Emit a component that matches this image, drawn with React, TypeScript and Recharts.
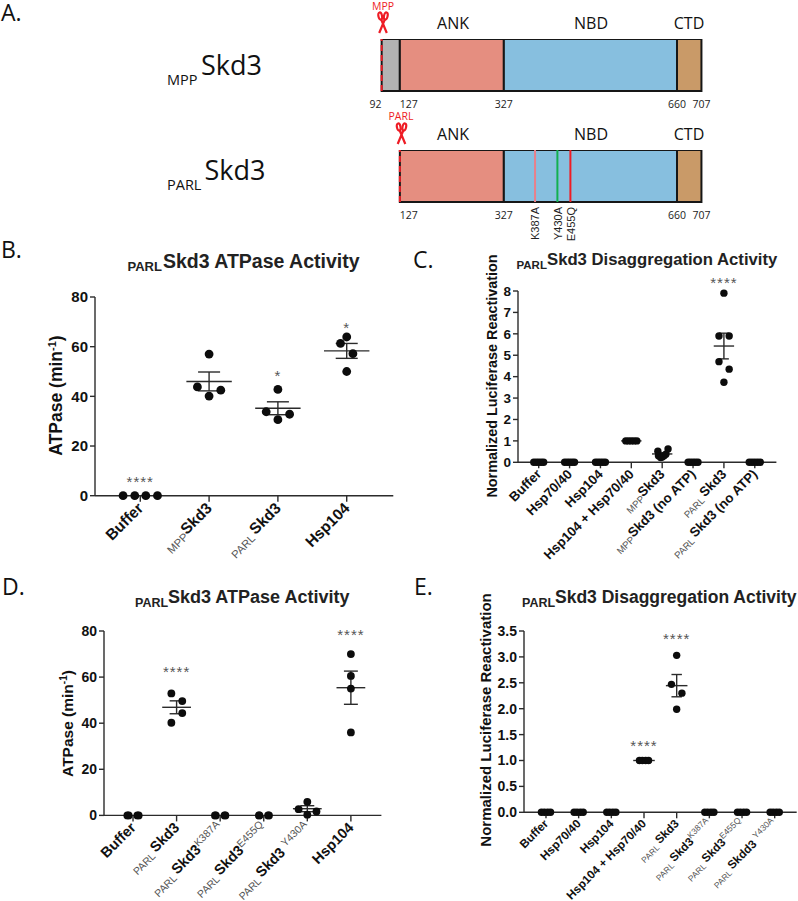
import {
  Bar,
  BarChart,
  ReferenceDot,
  ReferenceLine,
  Scatter,
  ScatterChart,
  XAxis,
  YAxis,
} from "recharts";

const ARIAL = "'Liberation Sans', Arial, sans-serif";
const MYRIAD = "'Open Sans', sans-serif";
const INK = "#2b2b2b";

// Panel A: domain map, residue numbers
const residues = [92, 127, 327, 660, 707];
const domainFills = ["#b3b3b3", "#e58e80", "#87bfdf", "#c99a68"];
const domainNames = ["ANK", "NBD", "CTD"];
const mutationResidues = [387, 430, 455];
const mutationNames = ["K387A", "Y430A", "E455Q"];
const mutationColors = ["#e8808a", "#12b04f", "#f01c24"];

// Panel B
const bCategories = ["Buffer", "_MPP Skd3", "_PARL Skd3", "Hsp104"];
const bX = [
  [0.75, 0.92, 1.08, 1.25],
  [2, 1.83, 2.17, 2],
  [3, 2.83, 3.17, 3],
  [4, 3.91, 4.09, 4],
];
const bY = [
  [0, 0, 0, 0],
  [57, 43.8, 42.5, 40.1],
  [42.8, 33.8, 32.8, 30.6],
  [63.9, 61.3, 57.2, 50],
];
const bMeans = [0, 46, 35.2, 58.3];
const bSems = [0, 3.8, 2.6, 3];
const bStars = [
  { x: 1, y: 5.8 },
  { x: 3, y: 48.5 },
  { x: 4, y: 68 },
];
const bStarText = ["****", "*", "*"];

// Panel C
const cCategories = [
  "Buffer",
  "Hsp70/40",
  "Hsp104",
  "Hsp104 + Hsp70/40",
  "_MPP Skd3",
  "_MPP Skd3 (no ATP)",
  "_PARL Skd3",
  "_PARL Skd3 (no ATP)",
];
const cX = [
  [0.84, 0.92, 1, 1.08, 1.16],
  [1.84, 1.92, 2, 2.08, 2.16],
  [2.84, 2.92, 3, 3.08, 3.16],
  [3.82, 3.91, 4, 4.09, 4.18],
  [4.86, 4.88, 4.95, 5, 5.06, 5.12, 5.19],
  [5.84, 5.92, 6, 6.08, 6.16],
  [7, 6.84, 7.17, 6.84, 7.17, 7],
  [7.82, 7.91, 8, 8.09, 8.18],
];
const cY = [
  [0, 0, 0, 0, 0],
  [0, 0, 0, 0, 0],
  [0, 0, 0, 0, 0],
  [1, 1, 1, 1, 1],
  [0.52, 0.3, 0.22, 0.25, 0.3, 0.38, 0.62],
  [0, 0, 0, 0, 0],
  [7.9, 5.9, 5.9, 4.7, 4.35, 3.74],
  [0, 0, 0, 0, 0],
];
const cMeans = [0, 0, 0, 1, 0.39, 0, 5.43, 0];
const cSems = [0, 0, 0, 0, 0.06, 0, 0.6, 0];
const cStars = [{ x: 7, y: 8.42 }];
const cStarText = ["****"];

// Panel D
const dCategories = [
  "Buffer",
  "_PARL Skd3",
  "_PARL Skd3^K387A",
  "_PARL Skd3^E455Q",
  "_PARL Skd3 ^Y430A",
  "Hsp104",
];
const dX = [
  [0.87, 0.9, 1.1, 1.13],
  [1.88, 2.13, 2.13, 1.88],
  [2.9, 3.1, 3.12, 2.88],
  [3.89, 4.12, 4.1, 3.9],
  [5, 4.8, 5.21, 5],
  [6, 6, 6, 6],
];
const dY = [
  [0, 0, 0, 0],
  [52.9, 49.6, 44.4, 40.2],
  [0, 0, 0, 0],
  [0, 0, 0, 0],
  [5.9, 2.7, 1.7, 0.3],
  [70, 60.5, 55, 36],
];
const dMeans = [0, 46.9, 0, 0, 2.9, 55.4];
const dSems = [0, 2.8, 0, 0, 1.3, 7.2];
const dStars = [
  { x: 2, y: 62.8 },
  { x: 6, y: 78.7 },
];
const dStarText = ["****", "****"];

// Panel E
const eCategories = [
  "Buffer",
  "Hsp70/40",
  "Hsp104",
  "Hsp104 + Hsp70/40",
  "_PARL Skd3",
  "_PARL Skd3^K387A",
  "_PARL Skd3^E455Q",
  "_PARL Skdd3 ^Y430A",
];
const eX = [
  [0.86, 0.95, 1.05, 1.14],
  [1.86, 1.95, 2.05, 2.14],
  [2.86, 2.95, 3.05, 3.14],
  [3.86, 3.95, 4.05, 4.14],
  [5, 4.84, 5.16, 5],
  [5.86, 5.95, 6.05, 6.14],
  [6.86, 6.95, 7.05, 7.14],
  [7.86, 7.95, 8.05, 8.14],
];
const eY = [
  [0, 0, 0, 0],
  [0, 0, 0, 0],
  [0, 0, 0, 0],
  [1, 1, 1, 1],
  [3.03, 2.47, 2.3, 1.99],
  [0, 0, 0, 0],
  [0, 0, 0, 0],
  [0, 0, 0, 0],
];
const eMeans = [0, 0, 0, 1, 2.445, 0, 0, 0];
const eSems = [0, 0, 0, 0, 0.215, 0, 0, 0];
const eStars = [
  { x: 4, y: 1.3 },
  { x: 5, y: 3.36 },
];
const eStarText = ["****", "****"];

function CategoryTick({ x, y, payload, categories, size }: any) {
  const raw: string = categories[payload.value - 1] ?? "";
  const m = raw.match(/^(?:_(\w+) )?([^^]+)(?:\^(\w+))?$/);
  const sub = m?.[1];
  const main = m?.[2];
  const sup = m?.[3];
  const small = size * 0.72;
  return (
    <g transform={`translate(${x + size * 0.25},${y + size * 0.35})`}>
      <text
        transform="rotate(-45)"
        textAnchor="end"
        fontFamily={ARIAL}
        fontSize={size}
        fontWeight="bold"
        fill="#111"
      >
        {sub && (
          <tspan fontSize={small} fontWeight="normal" fill="#555" dy={3}>
            {sub}
          </tspan>
        )}
        <tspan dy={sub ? -3 : 0} dx={sub === "PARL" ? 2.5 : 0}>
          {main}
        </tspan>
        {sup && (
          <tspan fontSize={small} fontWeight="normal" fill="#555" dy={-5}>
            {sup}
          </tspan>
        )}
      </text>
    </g>
  );
}

function DotPanel({
  left,
  right,
  top,
  bottom,
  xDomain,
  yDomain,
  yTicks,
  categories,
  xs,
  ys,
  means,
  sems,
  stars,
  starText,
  radius,
  tickSize,
  labelSize,
  yFormat,
}: any) {
  const points = xs.flatMap((row: number[], i: number) =>
    row.map((x, j) => ({ x, y: ys[i][j] })),
  );
  const axisPad = 60;
  const topPad = 30;
  const xHeight = 130;
  const lineProps = { stroke: INK, strokeWidth: 1.4, ifOverflow: "visible" as const };
  return (
    <div style={{ position: "absolute", left: left - axisPad, top: top - topPad }}>
      <ScatterChart
        width={right - left + axisPad + 1}
        height={bottom - top + topPad + xHeight}
        margin={{ top: topPad, right: 1, bottom: 0, left: 0 }}
      >
        <XAxis
          type="number"
          dataKey="x"
          domain={xDomain}
          ticks={categories.map((_: string, i: number) => i + 1)}
          interval={0}
          height={xHeight}
          stroke={INK}
          strokeWidth={1.4}
          tickSize={6}
          tickMargin={2}
          tick={(p: any) => <CategoryTick {...p} categories={categories} size={labelSize} />}
        />
        <YAxis
          type="number"
          dataKey="y"
          domain={yDomain}
          ticks={yTicks}
          interval={0}
          width={axisPad}
          stroke={INK}
          strokeWidth={1.4}
          tickSize={5}
          tickMargin={2}
          tickFormatter={yFormat}
          tick={{ fontFamily: ARIAL, fontWeight: "bold", fontSize: tickSize, fill: "#111" }}
        />
        <Scatter
          data={points}
          isAnimationActive={false}
          shape={(p: any) => <circle cx={p.cx} cy={p.cy} r={radius} fill="#0c0c0c" />}
        />
        {means.map((mean: number, i: number) => {
          const c = i + 1;
          const sem = sems[i];
          if (mean === 0) return null;
          return (
            <g key={c}>
              <ReferenceLine {...lineProps} segment={[{ x: c - 0.33, y: mean }, { x: c + 0.33, y: mean }]} />
              {sem > 0 && (
                <>
                  <ReferenceLine {...lineProps} segment={[{ x: c, y: mean - sem }, { x: c, y: mean + sem }]} />
                  <ReferenceLine {...lineProps} segment={[{ x: c - 0.16, y: mean + sem }, { x: c + 0.16, y: mean + sem }]} />
                  <ReferenceLine {...lineProps} segment={[{ x: c - 0.16, y: mean - sem }, { x: c + 0.16, y: mean - sem }]} />
                </>
              )}
            </g>
          );
        })}
        {stars.map((s: { x: number; y: number }, i: number) => (
          <ReferenceDot
            key={i}
            x={s.x}
            y={s.y}
            r={0}
            ifOverflow="visible"
            label={(p: any) => (
              <text
                x={p.viewBox.x + (p.viewBox.width || 0) / 2}
                y={p.viewBox.y + (p.viewBox.height || 0) / 2 + 6}
                textAnchor="middle"
                fontFamily={ARIAL}
                fontSize={15}
                letterSpacing={1}
                fill="#555"
              >
                {starText[i]}
              </text>
            )}
          />
        ))}
      </ScatterChart>
    </div>
  );
}

function DomainTick({ x, y, payload }: any) {
  const v = payload.value;
  const anchor = v === 92 ? "end" : v === 127 ? "start" : "middle";
  return (
    <text x={x} y={y + 9} textAnchor={anchor} fontFamily={MYRIAD} fontSize={10.5} fill="#222">
      {v}
    </text>
  );
}

function DomainMap({ top, start, mutations }: { top: number; start: number; mutations: boolean }) {
  const row: Record<string, number | string> = { name: "Skd3", offset: start };
  residues.slice(1).forEach((r, i) => {
    row[`seg${i}`] = r - Math.max(residues[i], start);
  });
  const segs = residues.slice(1).map((_, i) => i).filter((i) => residues[i + 1] > start);
  // domain runs well past both ends so the outline and end labels are not clipped
  const lo = 60;
  const hi = 735;
  const pxPerResidue = 0.52;
  return (
    <div style={{ position: "absolute", left: 382 - (92 - lo) * pxPerResidue, top }}>
      <BarChart
        layout="vertical"
        width={(hi - lo) * pxPerResidue}
        height={52 + 22}
        data={[row]}
        barCategoryGap={0}
        margin={{ top: 0, right: 0, bottom: 0, left: 0 }}
      >
        <XAxis
          type="number"
          domain={[lo, hi]}
          allowDataOverflow
          ticks={start === 92 ? residues : residues.slice(1)}
          interval={0}
          height={22}
          axisLine={false}
          tickLine={false}
          tick={(p: any) => <DomainTick {...p} />}
        />
        <YAxis type="category" dataKey="name" hide />
        <Bar dataKey="offset" stackId="a" fill="none" stroke="none" isAnimationActive={false} />
        {segs.map((i) => (
          <Bar
            key={i}
            dataKey={`seg${i}`}
            stackId="a"
            fill={domainFills[i]}
            stroke="#161616"
            strokeWidth={2}
            isAnimationActive={false}
          />
        ))}
        {mutations &&
          mutationResidues.map((r, i) => (
            <ReferenceLine key={r} x={r} stroke={mutationColors[i]} strokeWidth={2} />
          ))}
        <ReferenceLine x={start} stroke="#ee1c25" strokeWidth={2} strokeDasharray="6 4" />
      </BarChart>
    </div>
  );
}

function Scissors({ x, y }: { x: number; y: number }) {
  return (
    <g transform={`translate(${x},${y})`} fill="none" stroke="#ee1c25" strokeWidth={2.2}>
      <ellipse cx={-2.8} cy={4} rx={1.8} ry={3.6} transform="rotate(-12 -2.8 4)" />
      <ellipse cx={2.8} cy={4} rx={1.8} ry={3.6} transform="rotate(12 2.8 4)" />
      <path d="M-1.8 7.5 L3.8 21 M1.8 7.5 L-3.8 21" />
    </g>
  );
}

function Title({ x, y, sub, subWidth, size, subSize, children }: any) {
  return (
    <>
      <text x={x} y={y + 3.5} fontFamily={ARIAL} fontWeight="bold" fontSize={subSize} fill="#222">
        {sub}
      </text>
      <text x={x + subWidth} y={y} fontFamily={ARIAL} fontWeight="bold" fontSize={size} fill="#222">
        {children}
      </text>
    </>
  );
}

function Letter({ x, y, children }: any) {
  return (
    <text x={x} y={y} fontFamily={MYRIAD} fontSize={23} fill="#111">
      {children}
    </text>
  );
}

function YTitle({ x, y, size, children }: any) {
  return (
    <text
      transform={`translate(${x},${y}) rotate(-90)`}
      textAnchor="middle"
      fontFamily={ARIAL}
      fontWeight="bold"
      fontSize={size}
      fill="#111"
    >
      {children}
    </text>
  );
}

function Overlay() {
  const residueX = (r: number) => 382 + (r - 92) * 0.52;
  return (
    <svg
      width={798}
      height={901}
      style={{ position: "absolute", left: 0, top: 0, pointerEvents: "none" }}
    >
      <Letter x={1} y={21}>A.</Letter>
      <Letter x={1} y={258}>B.</Letter>
      <Letter x={413} y={268}>C.</Letter>
      <Letter x={2} y={595}>D.</Letter>
      <Letter x={414} y={595}>E.</Letter>

      <g fontFamily={MYRIAD} fill="#111">
        <text x={167} y={85} fontSize={14.5}>MPP</text>
        <text x={201} y={75} fontSize={27}>Skd3</text>
        <text x={167} y={190} fontSize={14.5}>PARL</text>
        <text x={204.5} y={180} fontSize={27}>Skd3</text>
        {[29, 140].map((y) => (
          <g key={y} fontSize={16} textAnchor="middle">
            <text x={453} y={y}>{domainNames[0]}</text>
            <text x={591} y={y}>{domainNames[1]}</text>
            <text x={689} y={y}>{domainNames[2]}</text>
          </g>
        ))}
      </g>

      <g fontFamily={MYRIAD} fontSize={10.5} fill="#ee1c25" textAnchor="middle">
        <text x={383} y={9.5}>MPP</text>
        <text x={401} y={119.5}>PARL</text>
      </g>
      <Scissors x={383} y={12} />
      <Scissors x={401.5} y={123} />

      {mutationNames.map((name, i) => (
        <text
          key={name}
          transform={`translate(${residueX(mutationResidues[i]) + 4},207) rotate(-90)`}
          textAnchor="end"
          fontFamily={ARIAL}
          fontSize={11}
          fill="#222"
        >
          {name}
        </text>
      ))}

      <Title x={127.5} y={267.5} sub="PARL" subWidth={35.5} size={19.5} subSize={13}>
        Skd3 ATPase Activity
      </Title>
      <Title x={516.5} y={265} sub="PARL" subWidth={30.5} size={16.7} subSize={11.5}>
        Skd3 Disaggregation Activity
      </Title>
      <Title x={135} y={603} sub="PARL" subWidth={33} size={18} subSize={12.5}>
        Skd3 ATPase Activity
      </Title>
      <Title x={522} y={603} sub="PARL" subWidth={33} size={17.5} subSize={12.5}>
        Skd3 Disaggregation Activity
      </Title>

      <YTitle x={62} y={395.5} size={17.5}>
        ATPase (min<tspan fontSize={11} dy={-6}>-1</tspan><tspan dy={6}>)</tspan>
      </YTitle>
      <YTitle x={497} y={376} size={14.4}>Normalized Luciferase Reactivation</YTitle>
      <YTitle x={73} y={723.5} size={15.5}>
        ATPase (min<tspan fontSize={10} dy={-6}>-1</tspan><tspan dy={6}>)</tspan>
      </YTitle>
      <YTitle x={490.5} y={720} size={15}>Normalized Luciferase Reactivation</YTitle>
    </svg>
  );
}

export default function App() {
  return (
    <div style={{ position: "absolute", left: 0, top: 0, width: 798, height: 901, background: "#fff" }}>
      <DomainMap top={39} start={92} mutations={false} />
      <DomainMap top={150} start={127} mutations />
      <DotPanel
        left={94.7}
        right={393}
        top={297.3}
        bottom={496}
        xDomain={[0.342, 4.677]}
        yDomain={[0, 80]}
        yTicks={[0, 20, 40, 60, 80]}
        categories={bCategories}
        xs={bX}
        ys={bY}
        means={bMeans}
        sems={bSems}
        stars={bStars}
        starText={bStarText}
        radius={4.4}
        tickSize={15}
        labelSize={15.5}
      />
      <DotPanel
        left={518.3}
        right={776.7}
        top={290.7}
        bottom={462}
        xDomain={[0.329, 8.7]}
        yDomain={[0, 8]}
        yTicks={[0, 1, 2, 3, 4, 5, 6, 7, 8]}
        categories={cCategories}
        xs={cX}
        ys={cY}
        means={cMeans}
        sems={cSems}
        stars={cStars}
        starText={cStarText}
        radius={3.7}
        tickSize={13.5}
        labelSize={13.3}
      />
      <DotPanel
        left={104.3}
        right={381.7}
        top={631.3}
        bottom={815.7}
        xDomain={[0.334, 6.7]}
        yDomain={[0, 80]}
        yTicks={[0, 20, 40, 60, 80]}
        categories={dCategories}
        xs={dX}
        ys={dY}
        means={dMeans}
        sems={dSems}
        stars={dStars}
        starText={dStarText}
        radius={3.9}
        tickSize={14}
        labelSize={14.5}
      />
      <DotPanel
        left={524}
        right={796.7}
        top={630.7}
        bottom={812}
        xDomain={[0.327, 8.673]}
        yDomain={[0, 3.5]}
        yTicks={[0, 0.5, 1, 1.5, 2, 2.5, 3, 3.5]}
        yFormat={(v: number) => v.toFixed(1)}
        categories={eCategories}
        xs={eX}
        ys={eY}
        means={eMeans}
        sems={eSems}
        stars={eStars}
        starText={eStarText}
        radius={3.7}
        tickSize={14}
        labelSize={11.8}
      />
      <Overlay />
    </div>
  );
}
